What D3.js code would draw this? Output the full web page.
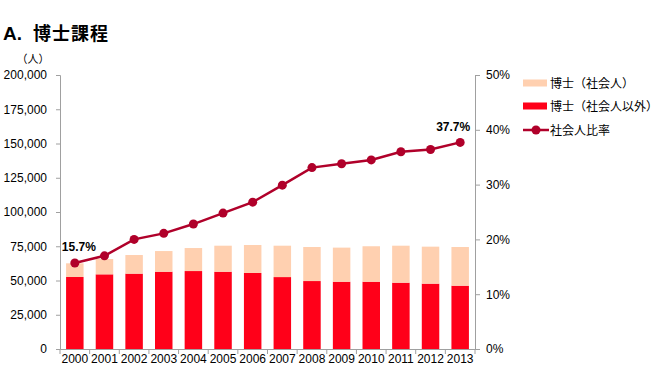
<!DOCTYPE html>
<html><head><meta charset="utf-8">
<script src="https://cdn.jsdelivr.net/npm/d3@7"></script>
<style>body{margin:0;background:#fff}svg{display:block;font-family:"Liberation Sans",Arial,"Noto Sans CJK JP",sans-serif}</style>
</head><body><svg id="c" width="658" height="390"></svg>
<script>
const years = ["2000","2001","2002","2003","2004","2005","2006","2007","2008","2009","2010","2011","2012","2013"];
const workingAdults = [10000,11200,13600,15100,16800,19000,20400,22900,24850,24900,25900,27000,27000,28250];
const nonWorking = [52550,54500,55000,56400,56900,56400,55500,52500,49600,49100,49100,48400,47700,46200];
const ratio = [15.7,17.0,20.0,21.1,22.8,24.8,26.8,29.9,33.1,33.8,34.5,36.0,36.4,37.7];
const leftTicks = [0,25000,50000,75000,100000,125000,150000,175000,200000];
const rightTicks = [0,10,20,30,40,50];
const legendLabels = ["博士（社会人）","博士（社会人以外）","社会人比率"];
const colors = {adult:"#FFD0B0", non:"#FF0019", line:"#B0002A", axis:"#A0A0A0"};

const svg = d3.select("#c");
const L=60,R=475,T=75,B=349;
const x = d3.scaleBand().domain(years).range([L,R]).paddingInner(0.41).paddingOuter(0.205);
const y = d3.scaleLinear().domain([0,200000]).range([B,T]);
const y2 = d3.scaleLinear().domain([0,50]).range([B,T]);
const fmt = d3.format(",");

svg.append("text").attr("x",3).attr("y",40).attr("font-size",19).attr("font-weight","bold")
  .attr("font-family","'Liberation Sans',Arial,sans-serif").text("A.");
svg.append("text").attr("x",33).attr("y",40).attr("font-size",18).attr("font-weight","bold")
  .attr("letter-spacing",1)
  .attr("font-family","'Noto Sans CJK JP',sans-serif").text("博士課程");
svg.append("text").attr("x",33).attr("y",63).attr("font-size",11).attr("text-anchor","middle")
  .attr("font-family","'Noto Sans CJK JP',sans-serif").text("（人）");

// bars
const g = svg.append("g");
g.selectAll(".non").data(years).join("rect")
  .attr("x",d=>x(d)).attr("width",x.bandwidth())
  .attr("y",(d,i)=>y(nonWorking[i])).attr("height",(d,i)=>B-y(nonWorking[i]))
  .attr("fill",colors.non);
g.selectAll(".ad").data(years).join("rect")
  .attr("x",d=>x(d)).attr("width",x.bandwidth())
  .attr("y",(d,i)=>y(nonWorking[i]+workingAdults[i])).attr("height",(d,i)=>y(nonWorking[i])-y(nonWorking[i]+workingAdults[i]))
  .attr("fill",colors.adult);

// axes
const la = svg.append("g").attr("transform",`translate(${L},0)`)
  .call(d3.axisLeft(y).tickValues(leftTicks).tickFormat(fmt).tickSize(4).tickPadding(9));
const ra = svg.append("g").attr("transform",`translate(${R},0)`)
  .call(d3.axisRight(y2).tickValues(rightTicks).tickFormat(d=>d+"%").tickSize(5).tickPadding(6));
const xa = svg.append("g").attr("transform",`translate(0,${B})`)
  .call(d3.axisBottom(x).tickSize(0).tickPadding(5));
[la,ra,xa].forEach(a=>{
  a.selectAll("path,line").attr("stroke",colors.axis);
  a.selectAll("text").attr("font-size",12).attr("fill","#000");
});
// category boundary ticks
svg.append("g").selectAll("line").data(d3.range(years.length+1)).join("line")
  .attr("x1",i=>L+i*(R-L)/years.length).attr("x2",i=>L+i*(R-L)/years.length)
  .attr("y1",B).attr("y2",B+5).attr("stroke",colors.axis);

// line
const cx = d=>x(d)+x.bandwidth()/2;
svg.append("path").datum(years).attr("fill","none").attr("stroke",colors.line).attr("stroke-width",2.5)
  .attr("d",d3.line().x(cx).y((d,i)=>y2(ratio[i])));
svg.append("g").selectAll("circle").data(years).join("circle")
  .attr("cx",cx).attr("cy",(d,i)=>y2(ratio[i])).attr("r",4.5).attr("fill",colors.line);

svg.append("text").attr("x",cx(years[0])-13).attr("y",y2(ratio[0])-12).attr("font-size",12).attr("font-weight","bold")
  .text(ratio[0].toFixed(1)+"%");
const li = years.length-1;
svg.append("text").attr("x",cx(years[li])-24).attr("y",y2(ratio[li])-11).attr("font-size",12).attr("font-weight","bold")
  .text(ratio[li].toFixed(1)+"%");

// legend
const lg = svg.append("g").attr("font-family","'Noto Sans CJK JP',sans-serif").attr("font-size",12);
lg.append("rect").attr("x",523).attr("y",79.5).attr("width",24).attr("height",7).attr("fill",colors.adult);
lg.append("text").attr("x",550).attr("y",87.5).text(legendLabels[0]);
lg.append("rect").attr("x",523).attr("y",102.5).attr("width",24).attr("height",7).attr("fill",colors.non);
lg.append("text").attr("x",550).attr("y",110.5).text(legendLabels[1]);
lg.append("line").attr("x1",523).attr("x2",549).attr("y1",130).attr("y2",130).attr("stroke",colors.line).attr("stroke-width",2.5);
lg.append("circle").attr("cx",536).attr("cy",130).attr("r",4.5).attr("fill",colors.line);
lg.append("text").attr("x",550).attr("y",134.5).text(legendLabels[2]);
</script></body></html>
